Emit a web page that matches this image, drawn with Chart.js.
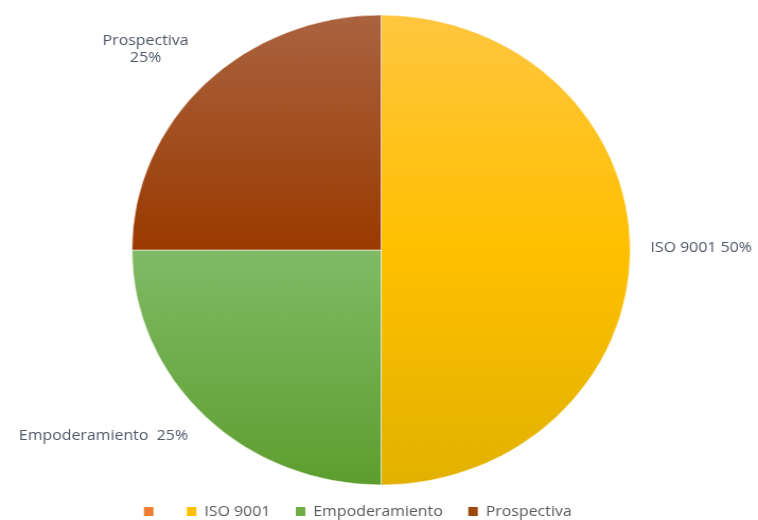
<!DOCTYPE html>
<html>
<head>
<meta charset="utf-8">
<script src="https://cdn.jsdelivr.net/npm/chart.js@4.4.1/dist/chart.umd.min.js"></script>
<style>
  html, body { margin: 0; padding: 0; background: #fff; }
</style>
</head>
<body>
<canvas id="pie" width="715" height="520" style="display:block;width:758px;height:520px"></canvas>
<script>
// categories and their shares (percent)
var labels = ['', 'ISO 9001', 'Empoderamiento', 'Prospectiva'];
var values = [0, 50, 25, 25];

// flat colours for the legend, shaded stops for the slices (0 = top of pie, 1 = bottom)
var baseColors = ['#ED7D31', '#FFC000', '#70AD47', '#9E480E'];
var shadeStops = [
  [[0, '#ED7D31'], [1, '#ED7D31']],
  [[0, '#FFC63F'], [0.5, '#FFC000'], [1, '#E2B100']],
  [[0.5, '#81BA66'], [1, '#5D9E2F']],
  [[0, '#AA6340'], [0.5, '#9A3A00']]
];

var PIE_RADIUS = 235;
var textColor = '#4f5766';
var fontFamily = '"Open Sans", "DejaVu Sans", sans-serif';

// where each slice label sits relative to the slice's outer mid point
var placement = [
  null,
  { dx: 19, dy: -2, align: 'left', gap: ' ' },
  { dx: -16, dy: 20, align: 'right', gap: '  ' },
  { dx: -56, dy: -43, align: 'center', split: true, lineGap: 17 }
];

function shade(context) {
  var chart = context.chart;
  var area = chart.chartArea;
  var i = context.dataIndex;
  if (!area) return baseColors[i];
  var cy = (area.top + area.bottom) / 2;
  var g = chart.ctx.createLinearGradient(0, cy - PIE_RADIUS, 0, cy + PIE_RADIUS);
  shadeStops[i].forEach(function (s) { g.addColorStop(s[0], s[1]); });
  return g;
}

var sliceLabels = {
  id: 'sliceLabels',
  afterDatasetsDraw: function (chart) {
    var ctx = chart.ctx;
    var meta = chart.getDatasetMeta(0);
    var total = values.reduce(function (a, b) { return a + b; }, 0);
    ctx.save();
    ctx.font = '15px ' + fontFamily;
    ctx.fillStyle = textColor;
    ctx.textBaseline = 'middle';
    meta.data.forEach(function (arc, i) {
      if (!values[i]) return;
      var p = arc.getProps(['x', 'y', 'startAngle', 'endAngle', 'outerRadius']);
      var mid = (p.startAngle + p.endAngle) / 2;
      var ax = p.x + Math.cos(mid) * p.outerRadius;
      var ay = p.y + Math.sin(mid) * p.outerRadius;
      var pl = placement[i];
      var pct = Math.round(values[i] / total * 100) + '%';
      var lines = pl.split ? [labels[i], pct] : [labels[i] + pl.gap + pct];
      ctx.textAlign = pl.align;
      lines.forEach(function (t, k) {
        ctx.fillText(t, ax + pl.dx, ay + pl.dy + k * (pl.lineGap || 0));
      });
    });
    ctx.restore();
  }
};

// move the legend row to a fixed top and nudge it sideways once layout is done
var legendShift = {
  id: 'legendShift',
  afterLayout: function (chart, args, opts) {
    var lg = chart.legend;
    var h = lg.bottom - lg.top;
    lg.left += opts.x; lg.right += opts.x;
    lg.top = opts.top; lg.bottom = opts.top + h;
  }
};

var defaultLabels = Chart.overrides.pie.plugins.legend.labels.generateLabels;

new Chart(document.getElementById('pie'), {
  type: 'pie',
  data: {
    labels: labels,
    datasets: [{
      data: values,
      backgroundColor: shade,
      borderColor: 'rgba(255,255,255,0.55)',
      borderWidth: [0, 1, 1, 1],
      radius: PIE_RADIUS,
      clip: false
    }]
  },
  options: {
    responsive: false,
    devicePixelRatio: 1,
    animation: false,
    layout: { padding: { top: 29, left: 4, right: 0, bottom: 0 } },
    plugins: {
      tooltip: { enabled: false },
      legendShift: { x: -22, top: 480 },
      legend: {
        position: 'bottom',
        labels: {
          boxWidth: 9,
          boxHeight: 9,
          padding: 24,
          color: '#595959',
          font: { family: fontFamily, size: 15 },
          generateLabels: function (chart) {
            return defaultLabels(chart).map(function (item, i) {
              item.fillStyle = baseColors[i];
              item.lineWidth = 0;
              item.strokeStyle = 'transparent';
              item.hidden = false;
              return item;
            });
          }
        }
      }
    }
  },
  plugins: [sliceLabels, legendShift]
});
</script>
</body>
</html>
